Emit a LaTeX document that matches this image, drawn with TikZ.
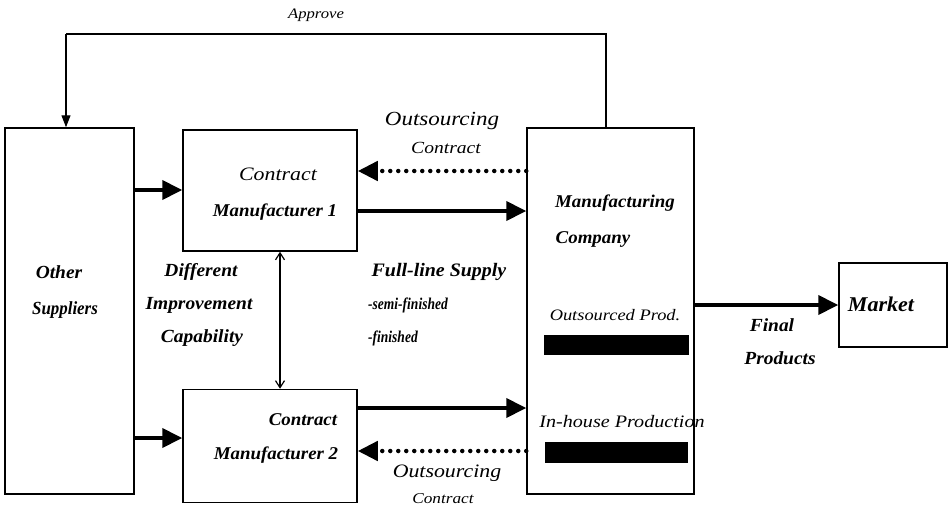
\documentclass[tikz,border=0pt]{standalone}
\usepackage{fontspec}
\setmainfont{Liberation Serif}[FakeStretch=1.15]
\newfontfamily\widebf{Liberation Serif}[FakeStretch=1.05]
\usetikzlibrary{arrows.meta}
\newcommand{\bsz}[1]{\fontsize{#1}{#1}\selectfont\widebf\bfseries\itshape}
\newcommand{\isz}[1]{\fontsize{#1}{#1}\selectfont\itshape}
\newcommand{\narrow}[2]{\scalebox{#1}[1]{#2}}
\begin{document}
\begin{tikzpicture}[x=1pt,y=-1pt,
  box/.style={draw, line width=1.5pt, inner sep=0pt},
  flow/.style={line width=4pt, -{Triangle[length=20pt,width=19pt]}},
  back/.style={line width=4.5pt, dash pattern=on 0pt off 8pt, line cap=round,
    -{Triangle[length=20pt,width=19pt]}},
  thin/.style={line width=1.2pt},
  tx/.style={inner sep=0pt},
  bar/.style={fill=black, draw=none, inner sep=0pt}]
\useasboundingbox (0,0) rectangle (950,511);

% blocks
\node[box, minimum width=129pt, minimum height=366pt] (sup) at (69.5,311) {};
\node[box, minimum width=174pt, minimum height=121pt] (cm1) at (270,190.5) {};
\node[box, minimum width=174pt, minimum height=113pt] (cm2) at (270,446) {};
\node[box, minimum width=167pt, minimum height=366pt] (mc)  at (610.5,311) {};
\node[box, minimum width=108pt, minimum height=84pt]  (mkt) at (893,305) {};

% labels inside blocks
\node[tx, font=\bsz{18.5}] (supa) at (59,272) {Other};
\node[tx, font=\bsz{18.5}] (supb) at (65,310) {\narrow{0.87}{Suppliers}};

\node[tx, font=\isz{19}] (cm1a) at (278,174) {Contract};
\node[tx, font=\bsz{18}] (cm1b) at (275,212) {Manufacturer 1};

\node[tx, font=\bsz{18}] (cm2a) at (303,420) {Contract};
\node[tx, font=\bsz{18}] (cm2b) at (276,455) {Manufacturer 2};

\node[tx, font=\bsz{18}] (mca) at (615,203) {Manufacturing};
\node[tx, font=\bsz{18}] (mcb) at (593,239) {Company};
\node[tx, font=\isz{16}] (outp) at (615,315) {Outsourced Prod.};
\node[bar, minimum width=145pt, minimum height=20pt] (bar1) at (616,345) {};
\node[tx, font=\isz{17.5}] (inh) at (622,422) {In-house Production};
\node[bar, minimum width=143pt, minimum height=21pt] (bar2) at (616.5,452.5) {};

\node[tx, font=\bsz{21}] (mkta) at (881,304) {Market};

% free labels
\node[tx, font=\isz{14.5}] (appr) at (316,15) {Approve};
\node[tx, font=\isz{20}] (oc1a) at (442,121) {Outsourcing};
\node[tx, font=\isz{17}] (oc1b) at (446,148) {Contract};
\node[tx, font=\isz{19}] (oc2a) at (447,473) {Outsourcing};
\node[tx, font=\isz{15}] (oc2b) at (443,499) {Contract};

\node[tx, font=\bsz{18.5}] (dia) at (201,272) {Different};
\node[tx, font=\bsz{18.5}] (dib) at (199,305) {Improvement};
\node[tx, font=\bsz{18.5}] (dic) at (202,338) {Capability};

\node[tx, font=\bsz{19}] (fla) at (439,272) {Full-line Supply};
\node[tx, font=\bsz{16.5}, anchor=west] (flb) at (368,305) {\narrow{0.78}{-semi-finished}};
\node[tx, font=\bsz{16.5}, anchor=west] (flc) at (368,338) {\narrow{0.78}{-finished}};

\node[tx, font=\bsz{18.5}] (fpa) at (772,325) {Final};
\node[tx, font=\bsz{18.5}] (fpb) at (780,358) {Products};

% approval loop back to the suppliers
\coordinate (apl) at (66,34);
\coordinate (apr) at (606,34);
\draw[thin] (mc.north -| apr) -- (apr) -- (apl);
\draw[thin, -{Triangle[length=12pt,width=9pt]}] (apl) -- (sup.north -| apl);

% supply flows
\draw[flow] (sup.east |- 0,190) -- (cm1.west |- 0,190);
\draw[flow] (sup.east |- 0,438) -- (cm2.west |- 0,438);
\draw[flow] (cm1.east |- 0,211) -- (mc.west |- 0,211);
\draw[flow] (cm2.east |- 0,408) -- (mc.west |- 0,408);
\draw[flow] (mc.east |- 0,305) -- (mkt.west |- 0,305);

% outsourcing contracts
\draw[back] (mc.west |- 0,171) -- (cm1.east |- 0,171);
\draw[back] (mc.west |- 0,451) -- (cm2.east |- 0,451);

% capability comparison
\draw[thin, {Straight Barb[length=7pt,width=9pt]}-{Straight Barb[length=7pt,width=9pt]}]
  (cm1.south -| 280,0) -- (cm2.north -| 280,0);
\end{tikzpicture}
\end{document}
